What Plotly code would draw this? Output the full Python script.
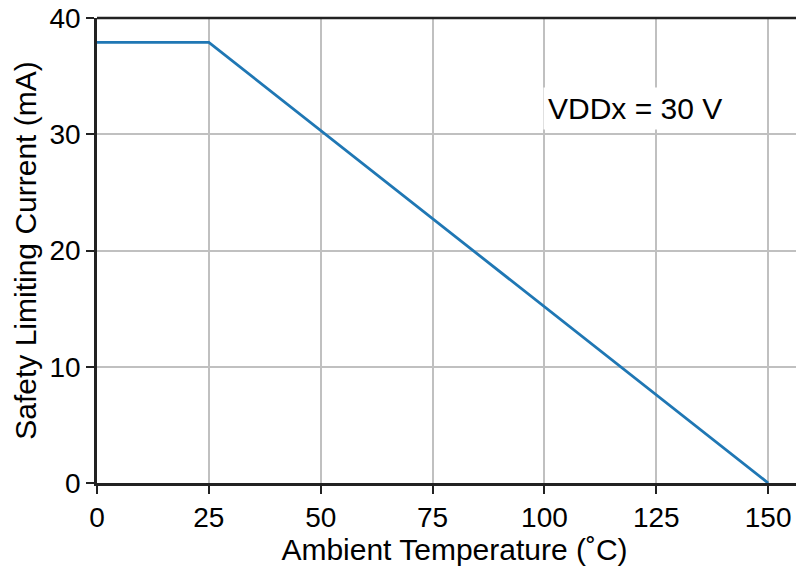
import plotly.graph_objects as go

temperature = [0, 25, 150]
current = [37.9, 37.9, 0]
x_ticks = [0, 25, 50, 75, 100, 125, 150]
y_ticks = [0, 10, 20, 30, 40]

fig = go.Figure()
fig.add_trace(go.Scatter(x=temperature, y=current, mode="lines",
                         line=dict(color="#1f77b4", width=2.8),
                         showlegend=False, hoverinfo="skip"))

fig.add_annotation(x=120.3, y=32.2, xref="x", yref="y", text="VDDx = 30 V",
                   showarrow=False, bgcolor="white", borderpad=4,
                   font=dict(size=30, color="black"))

font = dict(family="Liberation Sans, Arial, sans-serif", size=28, color="black")
fig.update_layout(
    width=804, height=567,
    margin=dict(l=89, r=0, t=10, b=92),
    plot_bgcolor="white", paper_bgcolor="white",
    font=font,
)
fig.update_xaxes(range=[0, 159.8], tickvals=x_ticks, ticks="outside", ticklen=8,
                 tickwidth=2, tickcolor="#222",
                 showline=True, linecolor="#222", linewidth=2.5, mirror=False,
                 showgrid=True, gridcolor="#c0c0c0", gridwidth=1.5, zeroline=False,
                 automargin=False, ticklabeloverflow="allow",
                 title=dict(text="Ambient Temperature (˚C)", standoff=2,
                            font=dict(size=30, color="black")),
                 tickfont=font)
fig.update_yaxes(range=[0, 40], tickvals=y_ticks, ticks="outside", ticklen=8,
                 tickwidth=2, tickcolor="#222",
                 showline=True, linecolor="#222", linewidth=2.5, zeroline=False,
                 showgrid=True, gridcolor="#c0c0c0", gridwidth=1.5,
                 automargin=False, ticklabeloverflow="allow",
                 title=dict(text="Safety Limiting Current (mA)", standoff=4,
                            font=dict(size=30, color="black")),
                 tickfont=font)
# top border line
fig.add_shape(type="line", xref="paper", yref="paper", x0=0, x1=1, y0=1, y1=1,
              line=dict(color="#222", width=2.5))

fig.write_html("out.html")
